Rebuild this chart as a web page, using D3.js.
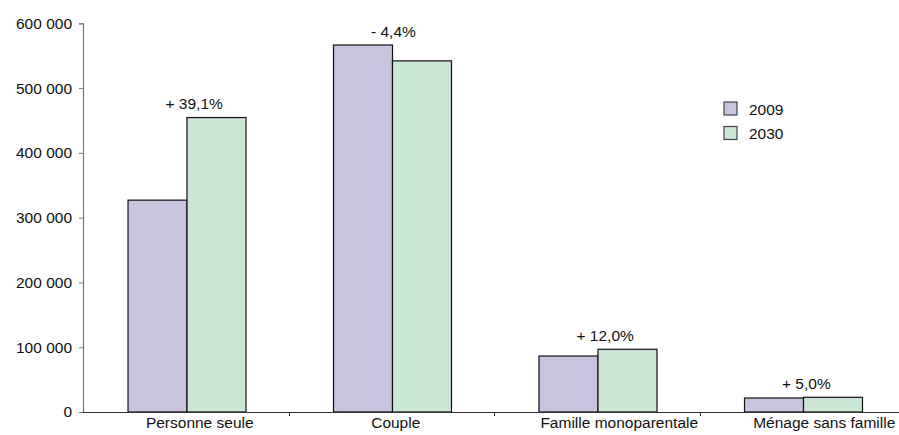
<!DOCTYPE html>
<html>
<head>
<meta charset="utf-8">
<script src="https://cdn.jsdelivr.net/npm/d3@7"></script>
<style>
  html, body { margin: 0; padding: 0; background: #fff; }
  svg { display: block; font-family: "Liberation Sans", Arial, sans-serif; }
</style>
</head>
<body>
<div id="chart"></div>
<script>
// data
const categories = ["Personne seule", "Couple", "Famille monoparentale", "Ménage sans famille"];
const series = ["2009", "2030"];
const values2009 = [327000, 566500, 86400, 21600];
const values2030 = [454500, 542000, 96800, 22700];
const changeLabels = ["+ 39,1%", "- 4,4%", "+ 12,0%", "+ 5,0%"];
const yTicks = [0, 100000, 200000, 300000, 400000, 500000, 600000];

const colors = { "2009": "#c8c4e0", "2030": "#cce6d5" };

// chart settings
const width = 899;
const height = 435;
const plotLeft = 83;
const plotBottom = 412;
const plotTop = 23.3;
const fontSize = "15.5px";
// the category labels sit a bit right of the band centres in the original
const labelShift = [14, 4.5, 22.5, 22];

const svg = d3.select("#chart")
  .append("svg")
  .attr("width", width)
  .attr("height", height);

// scales
const xScale = d3.scaleBand()
  .domain(categories)
  .range([plotLeft, plotLeft + 205.5 * categories.length])
  .paddingInner(0)
  .paddingOuter(0);

const xSub = d3.scaleBand()
  .domain(series)
  .range([45, 45 + 59 * 2]);

const yScale = d3.scaleLinear()
  .domain([0, 600000])
  .range([plotBottom, plotTop]);

const fmt = d3.formatLocale({ decimal: ",", thousands: " ", grouping: [3], currency: ["", " €"] }).format(",d");

// y-axis
const yAxis = d3.axisLeft(yScale)
  .tickValues(yTicks)
  .tickFormat(fmt)
  .tickSize(4)
  .tickPadding(7);

const gy = svg.append("g")
  .attr("transform", "translate(" + plotLeft + ",0)")
  .call(yAxis);
gy.select(".domain").attr("stroke", "#7a7a7a").attr("stroke-width", 1.2);
gy.selectAll(".tick line").attr("stroke", "#7a7a7a");
gy.selectAll(".tick text")
  .style("font-size", fontSize)
  .style("font-family", "'Liberation Sans', Arial, sans-serif")
  .attr("fill", "#111");

// bars
const rows = categories.map((c, i) => ({ cat: c, v: [values2009[i], values2030[i]], label: changeLabels[i] }));

const groups = svg.selectAll(".cat")
  .data(rows)
  .enter()
  .append("g")
  .attr("class", "cat")
  .attr("transform", (d) => "translate(" + xScale(d.cat) + ",0)");

groups.selectAll("rect")
  .data((d) => series.map((s, j) => ({ s: s, v: d.v[j] })))
  .enter()
  .append("rect")
  .attr("x", (d) => xSub(d.s))
  .attr("y", (d) => yScale(d.v))
  .attr("width", xSub.bandwidth())
  .attr("height", (d) => plotBottom - yScale(d.v))
  .attr("fill", (d) => colors[d.s])
  .attr("stroke", "#111")
  .attr("stroke-width", 1.2);

// change labels
groups.append("text")
  .attr("x", 82.5)
  .attr("y", (d) => yScale(d3.max(d.v)) - 8.5)
  .style("font-size", fontSize)
  .attr("fill", "#111")
  .text((d) => d.label);

// x-axis
svg.append("line")
  .attr("x1", plotLeft)
  .attr("x2", width)
  .attr("y1", plotBottom + 0.5)
  .attr("y2", plotBottom + 0.5)
  .attr("stroke", "#333")
  .attr("stroke-width", 1.2);

svg.selectAll(".xtick")
  .data(categories.slice(1))
  .enter()
  .append("line")
  .attr("x1", (d) => Math.round(xScale(d)) + 0.5)
  .attr("x2", (d) => Math.round(xScale(d)) + 0.5)
  .attr("y1", plotBottom)
  .attr("y2", plotBottom + 4)
  .attr("stroke", "#333");

svg.selectAll(".xlabel")
  .data(categories)
  .enter()
  .append("text")
  .attr("x", (d, i) => xScale(d) + xScale.bandwidth() / 2 + labelShift[i])
  .attr("y", 428)
  .attr("text-anchor", "middle")
  .style("font-size", fontSize)
  .attr("fill", "#111")
  .text((d) => d);

// legend
const legend = svg.selectAll(".legend")
  .data(series)
  .enter()
  .append("g")
  .attr("transform", (d, i) => "translate(724," + (102 + i * 24.5) + ")");

legend.append("rect")
  .attr("width", 13)
  .attr("height", 13)
  .attr("fill", (d) => colors[d])
  .attr("stroke", "#444")
  .attr("stroke-width", 1.2);

legend.append("text")
  .attr("x", 25)
  .attr("y", 12.5)
  .style("font-size", fontSize)
  .attr("fill", "#111")
  .text((d) => d);
</script>
</body>
</html>
